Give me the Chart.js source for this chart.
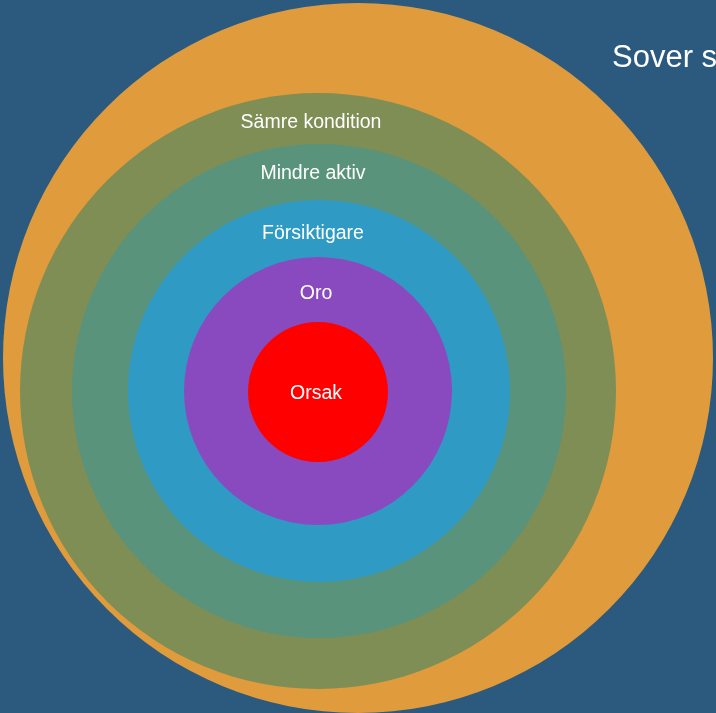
<!DOCTYPE html>
<html>
<head>
<meta charset="utf-8">
<script src="https://cdn.jsdelivr.net/npm/chart.js@4/dist/chart.umd.min.js"></script>
<style>
html,body{margin:0;padding:0;background:#2b5a7e;overflow:hidden;}
canvas{display:block;}
</style>
</head>
<body>
<canvas id="c" width="716" height="713"></canvas>
<script>
const categories = ['Sover sämre', 'Sämre kondition', 'Mindre aktiv', 'Försiktigare', 'Oro', 'Orsak'];
const centerX = [358, 318, 319, 319, 318, 318];
const centerY = [358, 391, 391, 391, 391, 392];
const radius = [355, 298, 247, 191, 134, 70];
const colors = ['#e09b3c', '#7f8e55', '#5a937b', '#2f9bc4', '#894ac0', '#ff0000'];

const labelPos = [
  {x: 612, y: 58, size: 31, align: 'left'},
  {x: 311, y: 123, size: 19.5, align: 'center'},
  {x: 313, y: 174, size: 19.5, align: 'center'},
  {x: 313, y: 234, size: 19.5, align: 'center'},
  {x: 316, y: 294, size: 19.5, align: 'center'},
  {x: 316, y: 394, size: 19.5, align: 'center'}
];

const labelPlugin = {
  id: 'ringLabels',
  afterDatasetsDraw(chart) {
    const ctx = chart.ctx;
    const xs = chart.scales.x, ys = chart.scales.y;
    ctx.save();
    ctx.fillStyle = '#ffffff';
    ctx.textBaseline = 'middle';
    categories.forEach((t, i) => {
      const p = labelPos[i];
      ctx.font = p.size + 'px "Liberation Sans", Arial, sans-serif';
      ctx.textAlign = p.align;
      ctx.fillText(t, xs.getPixelForValue(p.x), ys.getPixelForValue(p.y));
    });
    ctx.restore();
  }
};

new Chart(document.getElementById('c'), {
  type: 'bubble',
  data: {
    datasets: [{
      data: categories.map((c, i) => ({x: centerX[i], y: centerY[i], r: radius[i]})),
      backgroundColor: colors,
      borderWidth: 0,
      hoverBorderWidth: 0,
      clip: false
    }]
  },
  options: {
    responsive: false,
    animation: false,
    events: [],
    layout: {padding: 0, autoPadding: false},
    plugins: {legend: {display: false}, tooltip: {enabled: false}},
    scales: {
      x: {type: 'linear', min: 0, max: 716, display: false},
      y: {type: 'linear', min: 0, max: 713, reverse: true, display: false}
    }
  },
  plugins: [labelPlugin]
});
</script>
</body>
</html>
